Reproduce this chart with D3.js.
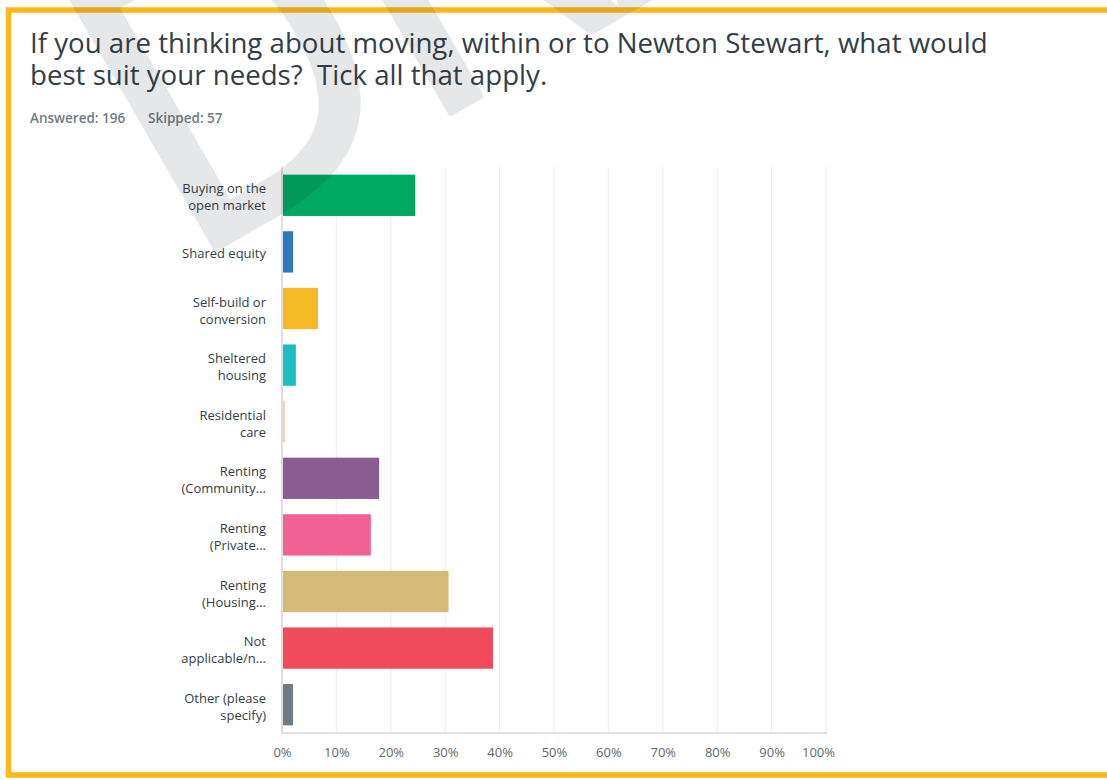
<!DOCTYPE html>
<html>
<head>
<meta charset="utf-8">
<script src="https://cdn.jsdelivr.net/npm/d3@7/dist/d3.min.js"></script>
<style>
  html, body { margin: 0; padding: 0; background: #ffffff; }
  svg { display: block; }
</style>
</head>
<body>
<svg id="chart" width="1107" height="780"></svg>
<script>
// ---- Data ----
const titleLines = [
  "If you are thinking about moving, within or to Newton Stewart, what would",
  "best suit your needs?  Tick all that apply."
];
const answeredText = "Answered: 196";
const skippedText = "Skipped: 57";
const watermarkText = "DRAFT";
const categories = [
  ["Buying on the", "open market"],
  ["Shared equity"],
  ["Self-build or", "conversion"],
  ["Sheltered", "housing"],
  ["Residential", "care"],
  ["Renting", "(Community..."],
  ["Renting", "(Private..."],
  ["Renting", "(Housing..."],
  ["Not", "applicable/n..."],
  ["Other (please", "specify)"]
];
const values = [24.49, 2.04, 6.63, 2.55, 0.51, 17.86, 16.33, 30.61, 38.78, 2.04];
const colors = ["#00a862", "#2d79bd", "#f4b924", "#1fbcc0", "#f9c7b0", "#8a5e92", "#ef6293", "#d2bb78", "#ef4b5a", "#6f7c83"];
const xTicks = [0, 10, 20, 30, 40, 50, 60, 70, 80, 90, 100];
const xTickLabels = ["0%", "10%", "20%", "30%", "40%", "50%", "60%", "70%", "80%", "90%", "100%"];

// ---- Layout ----
const svg = d3.select("#chart");
const plot = { left: 282, right: 826, top: 167, bottom: 733 };
const textFont = "'Open Sans', 'DejaVu Sans', sans-serif";

// Frame
svg.append("rect")
  .attr("x", 8.5).attr("y", 10).attr("width", 1110).attr("height", 765)
  .attr("fill", "none").attr("stroke", "#fbb81b").attr("stroke-width", 5.5);

// Title
const title = svg.append("g");
titleLines.forEach((t, i) => {
  title.append("text")
    .attr("x", 30).attr("y", 53 + i * 32)
    .attr("font-family", textFont)
    .attr("font-size", 26)
    .attr("fill", "#333e48")
    .style("white-space", "pre")
    .text(t);
});
const firstLine = title.select("text").node();
const w0 = firstLine.getComputedTextLength();
const fs = 26 * 958 / w0;
title.selectAll("text").attr("font-size", fs);

svg.append("text")
  .attr("x", 30).attr("y", 123)
  .attr("font-family", textFont).attr("font-size", 13.5).attr("font-weight", 600)
  .attr("fill", "#6f7c84")
  .text(answeredText);
svg.append("text")
  .attr("x", 148).attr("y", 123)
  .attr("font-family", textFont).attr("font-size", 13.5).attr("font-weight", 600)
  .attr("fill", "#6f7c84")
  .text(skippedText);

// Scales
const x = d3.scaleLinear().domain([0, 100]).range([plot.left, plot.right]);
const y = d3.scaleBand().domain(d3.range(categories.length))
  .range([plot.top, plot.bottom]).paddingInner(0.27).paddingOuter(0.135);

// Gridlines
svg.append("g").selectAll("line").data(xTicks.slice(1)).join("line")
  .attr("x1", d => x(d)).attr("x2", d => x(d))
  .attr("y1", plot.top).attr("y2", plot.bottom)
  .attr("stroke", "#efefef").attr("stroke-width", 1.2);

// Bars
svg.append("g").selectAll("rect").data(values).join("rect")
  .attr("x", x(0))
  .attr("y", (d, i) => y(i))
  .attr("width", d => x(d) - x(0))
  .attr("height", y.bandwidth())
  .attr("fill", (d, i) => colors[i]);

// Axis lines
svg.append("line")
  .attr("x1", plot.left).attr("x2", plot.left)
  .attr("y1", plot.top).attr("y2", plot.bottom + 1)
  .attr("stroke", "#dedede").attr("stroke-width", 2);
svg.append("line")
  .attr("x1", plot.left - 1).attr("x2", plot.right + 1)
  .attr("y1", plot.bottom).attr("y2", plot.bottom)
  .attr("stroke", "#e2e2e2").attr("stroke-width", 2);

// X axis tick labels
const xAxis = d3.axisBottom(x).tickValues(xTicks)
  .tickFormat((d, i) => xTickLabels[i]).tickSize(0).tickPadding(0);
const gx = svg.append("g").attr("transform", `translate(0, ${plot.bottom + 15})`).call(xAxis);
gx.select(".domain").remove();
gx.selectAll("text")
  .attr("font-family", textFont).attr("font-size", 13)
  .attr("fill", "#5d6970")
  .attr("dy", "0.71em");
gx.selectAll(".tick").filter(d => d === 100).select("text").attr("x", -8);

// Category labels
const lab = svg.append("g");
categories.forEach((lines, i) => {
  const cy = y(i) + y.bandwidth() / 2;
  const lh = 17;
  const start = cy - (lines.length - 1) * lh / 2;
  const t = lab.append("text")
    .attr("text-anchor", "end")
    .attr("font-family", textFont).attr("font-size", 13)
    .attr("fill", "#333e48");
  lines.forEach((l, j) => {
    t.append("tspan").attr("x", 266).attr("y", start + j * lh).attr("dy", "0.5em").text(l);
  });
});

// Watermark
svg.append("g")
  .attr("opacity", 0.1)
  .append("text")
  .attr("transform", "translate(186,266) rotate(-30) scale(0.88,1)")
  .attr("font-family", "'DejaVu Sans', sans-serif")
  .attr("font-size", 400)
  .attr("fill", "#1a2030")
  .attr("stroke", "#1a2030")
  .attr("stroke-width", 6)
  .attr("stroke-linejoin", "round")
  .text(watermarkText);
</script>
</body>
</html>
